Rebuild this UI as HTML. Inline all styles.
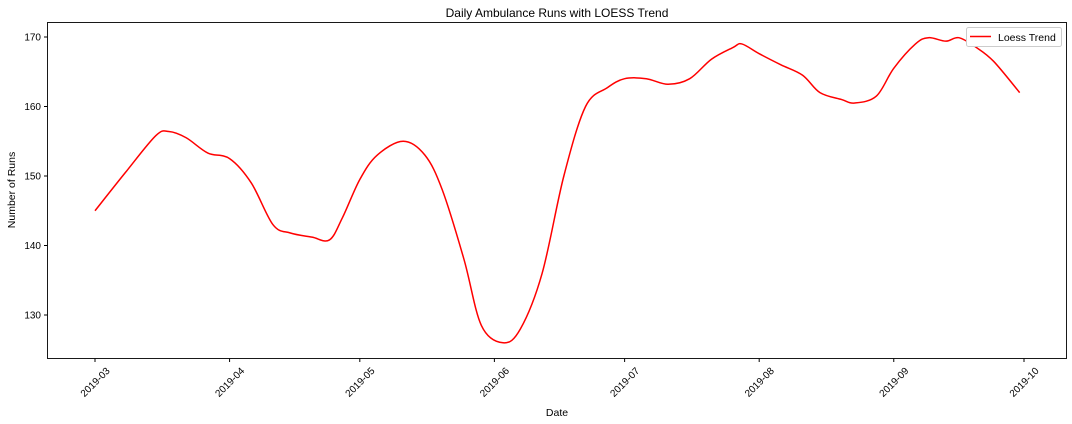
<!DOCTYPE html>
<html><head><meta charset="utf-8"><style>
body{margin:0;background:#fff;}
svg{display:block;font-family:"Liberation Sans","DejaVu Sans",sans-serif;}
</style></head><body>
<svg id="chart" width="1072" height="424">
<rect x="0" y="0" width="1072" height="424" fill="#fff"/>
<text x="557" y="17" text-anchor="middle" font-size="12">Daily Ambulance Runs with LOESS Trend</text>
<g id="axes"></g>
<path id="line" fill="none" stroke="#ff0000" stroke-width="1.5"/>
<rect x="47.5" y="22.5" width="1019" height="336" fill="none" stroke="#000" stroke-width="0.9"/>
<g>
<rect x="966.5" y="27.5" width="95" height="19" rx="2" fill="#fff" stroke="#ccc"/>
<line x1="970" y1="36.5" x2="991" y2="36.5" stroke="#ff0000" stroke-width="1.6"/>
<text x="998" y="41" font-size="10.5">Loess Trend</text>
</g>
<text x="557" y="416" text-anchor="middle" font-size="10.5">Date</text>
<text transform="translate(15,190) rotate(-90)" text-anchor="middle" font-size="10.5">Number of Runs</text>
</svg>
<script>
const dayOffsets=[0,7,14,17,21,26,31,36,41,45,50,54,57,61,65,71,76,80,85,89,94,98,103,108,113,118,122,127,132,137,142,147,149,153,158,163,167,172,175,180,184,189,192,196,199,203,207,213];
const values=[145,150.5,155.8,156.4,155.5,153.3,152.5,149,143,141.8,141.2,140.8,144,149.5,153,155,153,148,138,128.5,126,128,136,150,160,162.7,164,164,163.2,164,166.8,168.5,169,167.6,166,164.5,162,161,160.5,161.5,165.5,169,169.9,169.4,169.9,168.5,166.5,162];
const xTickLabels=["2019-03","2019-04","2019-05","2019-06","2019-07","2019-08","2019-09","2019-10"];
const xTickDays=[0,31,61,92,122,153,184,214];
const yTicks=[130,140,150,160,170];
const ns="http://www.w3.org/2000/svg";
function xs(d){return 95+d*(1024-95)/214;}
function ys(v){return 315-(v-130)*(278/40);}
const axes=document.getElementById('axes');
yTicks.forEach(v=>{
 const y=ys(v);
 const l=document.createElementNS(ns,'line');
 l.setAttribute('x1',44);l.setAttribute('x2',47.5);l.setAttribute('y1',y);l.setAttribute('y2',y);l.setAttribute('stroke','#000');
 
 
 axes.appendChild(l);
 const t=document.createElementNS(ns,'text');
 t.setAttribute('x',41);t.setAttribute('y',y+3.5);t.setAttribute('text-anchor','end');t.setAttribute('font-size','10');
 t.textContent=v;
 
 
 axes.appendChild(t);
});
xTickDays.forEach((d,i)=>{
 const x=xs(d);
 const l=document.createElementNS(ns,'line');
 l.setAttribute('x1',x);l.setAttribute('x2',x);l.setAttribute('y1',358.5);l.setAttribute('y2',362);l.setAttribute('stroke','#000');
 
 
 axes.appendChild(l);
 const t=document.createElementNS(ns,'text');
 t.setAttribute('transform','translate('+x+',382) rotate(-45)');
 t.setAttribute('text-anchor','middle');t.setAttribute('font-size','10');
 t.setAttribute('dy','3.5');
 t.textContent=xTickLabels[i];
 
 
 axes.appendChild(t);
});
const pts=dayOffsets.map((d,i)=>[xs(d),ys(values[i])]);
let p='M'+pts[0][0]+','+pts[0][1];
for(let i=0;i<pts.length-1;i++){
 const p0=pts[Math.max(0,i-1)],p1=pts[i],p2=pts[i+1],p3=pts[Math.min(pts.length-1,i+2)];
 const c1=[p1[0]+(p2[0]-p0[0])/6,p1[1]+(p2[1]-p0[1])/6];
 const c2=[p2[0]-(p3[0]-p1[0])/6,p2[1]-(p3[1]-p1[1])/6];
 p+=' C'+c1[0]+','+c1[1]+' '+c2[0]+','+c2[1]+' '+p2[0]+','+p2[1];
}
document.getElementById('line').setAttribute('d',p);
</script>
</body></html>
